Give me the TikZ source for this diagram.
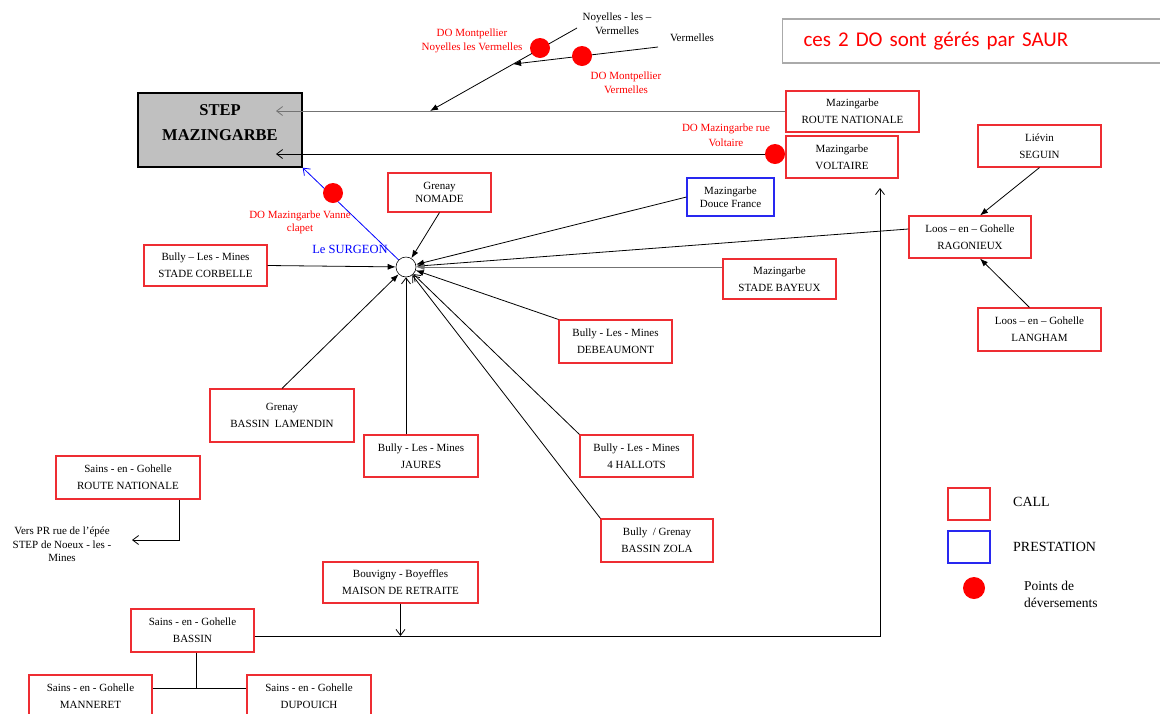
\documentclass[tikz,border=0pt]{standalone}
\usepackage{fontspec}
\setmainfont{Liberation Serif}
\newfontfamily\calibrifont{Carlito}
\usepackage{xcolor}
\usepackage{tikz}
\usetikzlibrary{arrows.meta}
\usetikzlibrary{positioning, calc}

\definecolor{callred}{RGB}{238,45,50}
\definecolor{prestblue}{RGB}{40,40,240}
\definecolor{dored}{RGB}{255,0,0}
\definecolor{stepgray}{RGB}{192,192,192}
\definecolor{saurgray}{RGB}{170,170,170}

\tikzset{
  callbox/.style={draw=callred, line width=1.1pt, inner sep=0pt, align=center, font=\fontsize{11}{17}\selectfont},
  prestbox/.style={callbox, draw=prestblue},
  dopoint/.style={circle, fill=dored, inner sep=0pt, minimum size=20pt},
  dolabel/.style={text=dored, inner sep=0pt, align=center, font=\fontsize{11}{14}\selectfont},
  txt/.style={inner sep=0pt, align=center, font=\fontsize{11}{14}\selectfont},
  fillarrow/.style={line width=0.8pt, -{Latex[length=8pt,width=6pt]}},
  openarrow/.style={line width=0.8pt, -{Straight Barb[length=6pt,width=9pt]}},
}

\begin{document}
\begin{tikzpicture}[x=1pt,y=-1pt]
        \useasboundingbox (0,0) rectangle (1160,713);
        \fill[white] (0,0) rectangle (1160,713);

        \node[draw, line width=1.4pt, fill=stepgray, inner sep=0pt, minimum width=164pt, minimum height=74pt, text depth=14pt, align=center, font=\fontsize{16.5}{25}\selectfont\bfseries] (step) at (220,130) {STEP\\MAZINGARBE};

        \node[callbox, minimum width=133pt, minimum height=41pt] (mzrn) at (852.5,111.5) {Mazingarbe\\ROUTE NATIONALE};
        \node[callbox, minimum width=112pt, minimum height=42pt] (volt) at (842,157) {Mazingarbe\\VOLTAIRE};
        \node[callbox, minimum width=123pt, minimum height=42pt] (seguin) at (1039.5,146) {Liévin\\SEGUIN};
        \node[callbox, minimum width=122pt, minimum height=42pt] (ragon) at (970,237) {Loos – en – Gohelle\\RAGONIEUX};
        \node[callbox, minimum width=123pt, minimum height=43pt] (langham) at (1039.5,329.5) {Loos – en – Gohelle\\LANGHAM};
        \node[callbox, minimum width=103pt, minimum height=39pt, font=\fontsize{11}{13}\selectfont] (nomade) at (439.5,192.5) {Grenay\\NOMADE};
        \node[prestbox, minimum width=87pt, minimum height=38pt, font=\fontsize{11}{12.5}\selectfont] (douce) at (730.5,197) {Mazingarbe\\Douce France};
        \node[callbox, minimum width=113pt, minimum height=40pt] (bayeux) at (779.5,279) {Mazingarbe\\STADE BAYEUX};
        \node[callbox, minimum width=123pt, minimum height=41pt] (corbelle) at (205.5,265.5) {Bully – Les - Mines\\STADE CORBELLE};
        \node[callbox, minimum width=144pt, minimum height=53pt] (lamendin) at (282,415.5) {Grenay\\BASSIN\ \ LAMENDIN};
        \node[callbox, minimum width=114pt, minimum height=42pt] (jaures) at (421,456) {Bully - Les - Mines\\JAURES};
        \node[callbox, minimum width=113pt, minimum height=43pt] (debeau) at (615.5,341.5) {Bully - Les - Mines\\DEBEAUMONT};
        \node[callbox, minimum width=113pt, minimum height=42pt] (hallots) at (636.5,456) {Bully - Les - Mines\\4 HALLOTS};
        \node[callbox, minimum width=112pt, minimum height=43pt] (zola) at (657,540.5) {Bully\ \ / Grenay\\BASSIN ZOLA};
        \node[callbox, minimum width=144pt, minimum height=43pt] (sainsrn) at (128,477.5) {Sains - en - Gohelle\\ROUTE NATIONALE};
        \node[callbox, minimum width=155pt, minimum height=41pt] (retraite) at (400.5,582.5) {Bouvigny - Boyeffles\\MAISON DE RETRAITE};
        \node[callbox, minimum width=123pt, minimum height=43pt] (bassin) at (192.5,630.5) {Sains - en - Gohelle\\BASSIN};
        \node[callbox, minimum width=123pt, minimum height=43pt] (manneret) at (90.5,696.5) {Sains - en - Gohelle\\MANNERET};
        \node[callbox, minimum width=124pt, minimum height=43pt] (dupouich) at (309,696.5) {Sains - en - Gohelle\\DUPOUICH};

        \node[circle, draw, line width=0.6pt, minimum size=20pt, inner sep=0pt] (hub) at (406,267) {};

        % vers la STEP
        \coordinate (stepin1) at (276,111);
        \coordinate (stepin2) at (276,154);
        \draw[openarrow, draw=black!55] (mzrn.west |- stepin1) -- (stepin1);
        \draw[openarrow] (volt.west |- stepin2) -- (stepin2);
        \draw[openarrow, draw=blue] (hub) -- (step.south east);

        \coordinate (noystart) at (577,28);
        \coordinate (noyend) at (430,111);
        \coordinate (vstart) at (658,47);
        \coordinate (vjoin) at ($(noystart)!0.435!(noyend)$);
        \draw[fillarrow] (noystart) -- (noyend);
        \draw[fillarrow] (vstart) -- (vjoin);

        % vers le regard
        \draw[fillarrow] (corbelle.east) -- (hub);
        \draw[fillarrow] (lamendin.north) -- (hub);
        \draw[openarrow] (jaures.north -| hub) -- (hub);
        \draw[fillarrow] (nomade.south) -- (hub);
        \draw[fillarrow] (douce.west) -- (hub);
        \draw[fillarrow] ([yshift=8pt]ragon.west) -- (hub);
        \draw[fillarrow, draw=black!55] (bayeux.west |- hub) -- (hub);
        \draw[fillarrow] (debeau.north west) -- (hub);
        \draw[openarrow] (hallots.north west) -- (hub);
        \draw[openarrow] (zola.north west) -- (hub);

        \draw[fillarrow] (seguin.south) -- ([xshift=10pt]ragon.north);
        \draw[fillarrow] ([xshift=-10pt]langham.north) -- ([xshift=10pt]ragon.south);

        \coordinate (bend) at (880,636);
        \coordinate (upend) at (880,188);
        \draw[openarrow] (bassin.east |- bend) -- (bend) -- (upend);
        \draw[openarrow] (retraite.south) -- (retraite.south |- bend);
        \coordinate (tee) at (196,688);
        \draw[line width=0.8pt] (bassin.south -| tee) -- (tee);
        \draw[line width=0.8pt] (manneret.east |- tee) -- (dupouich.west |- tee);
        \coordinate (vers) at (132,540);
        \draw[openarrow] ([xshift=51pt]sainsrn.south) |- (vers);

        \node[dopoint] (d1) at (540,48) {};
        \node[dopoint] (d2) at (582,56) {};
        \node[dopoint] (d3) at (775,154) {};
        \node[dopoint] (d4) at (333,193) {};

        \node[txt] (noyelles) at (617,24) {Noyelles - les –\\Vermelles};
        \node[txt] (vermelles) at (692,38) {Vermelles};
        \node[dolabel] (donoy) at (472,41) {DO Montpellier\\Noyelles les Vermelles};
        \node[dolabel] (dover) at (626,82.5) {DO Montpellier\\Vermelles};
        \node[dolabel, font=\fontsize{11}{15}\selectfont] (dovolt) at (726,135.5) {DO Mazingarbe rue\\Voltaire};
        \node[dolabel, font=\fontsize{11}{13}\selectfont] (dovanne) at (300,222.5) {DO Mazingarbe Vanne\\clapet};
        \node[inner sep=0pt, text=blue, font=\fontsize{12.5}{15}\selectfont] (surgeon) at (350,249) {Le SURGEON};
        \node[txt, font=\fontsize{11}{13.5}\selectfont] (verstxt) at (62,544.5) {Vers PR rue de l'épée\\STEP de Noeux - les -\\Mines};

        \node[draw=saurgray, line width=1.2pt, anchor=west, minimum height=44pt, text width=346pt, inner xsep=21pt, align=left, text=dored, font=\calibrifont\fontsize{21}{25}\selectfont] (saur) at (782,41) {ces 2 DO sont gérés par SAUR};

        % legende
        \node[callbox, minimum width=42pt, minimum height=32pt] (legcall) at (969,504) {};
        \node[prestbox, minimum width=42pt, minimum height=32pt] (legprest) at (969,547) {};
        \node[dopoint, minimum size=22pt] (legdot) at (974,588) {};
        \node[anchor=west, inner sep=0pt, font=\fontsize{14}{17}\selectfont] (legcalltxt) at (1013,502) {CALL};
        \node[anchor=west, inner sep=0pt, font=\fontsize{14}{17}\selectfont] (legpresttxt) at (1013,547) {PRESTATION};
        \node[anchor=west, inner sep=0pt, align=left, font=\fontsize{13.5}{17}\selectfont] (legdottxt) at (1024,594.5) {Points de\\déversements};
\end{tikzpicture}
\end{document}
